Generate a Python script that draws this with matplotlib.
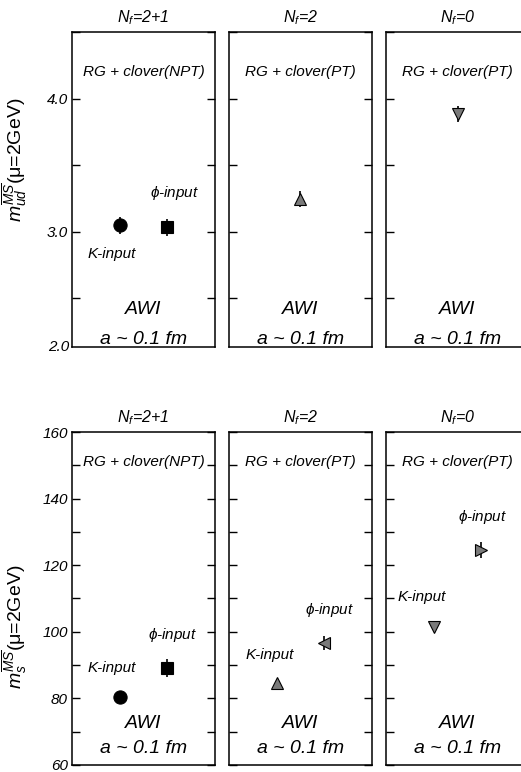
import numpy as np
import matplotlib
matplotlib.use('Agg')
import matplotlib.pyplot as plt
from matplotlib.ticker import FormatStrFormatter

plt.rcParams['font.family'] = ['Liberation Sans', 'DejaVu Sans']
plt.rcParams['font.style'] = 'italic'
plt.rcParams['mathtext.fontset'] = 'custom'
plt.rcParams['mathtext.it'] = 'Liberation Sans:italic'
plt.rcParams['mathtext.rm'] = 'Liberation Sans'

# panels: N_f = 2+1, 2, 0
nf_labels = ['2+1', '2', '0']
actions = ['RG + clover(NPT)', 'RG + clover(PT)', 'RG + clover(PT)']

# m_ud (MS-bar, 2 GeV) in MeV
mud_x = [[1.0, 2.0], [1.5], [1.5]]
mud_val = [[3.05, 3.035], [3.245], [3.885]]
mud_err = [[0.064, 0.063], [0.06], [0.06]]

# m_s (MS-bar, 2 GeV) in MeV : K-input and phi-input
ms_k = [80.3, 84.6, 101.3]
ms_k_err = [1.0, 1.0, 1.0]
ms_phi = [89.2, 96.6, 124.7]
ms_phi_err = [2.7, 2.1, 2.4]

k_markers = ['o', '^', 'v']
phi_markers = ['s', '<', '>']
colors = ['black', '#7a7a7a', '#7a7a7a']

fig = plt.figure(figsize=(5.21, 7.72), dpi=100)
lefts = [0.1382, 0.4395, 0.7409]
w = 0.2745

top_axes = [fig.add_axes([l, 0.5505, w, 0.4080]) for l in lefts]
bot_axes = [fig.add_axes([l, 0.0091, w, 0.4313]) for l in lefts]


def style(ax, major, minor, labels):
    ax.set_xlim(0, 3)
    ax.set_xticks([])
    ax.set_yticks(major)
    ax.set_yticks(minor, minor=True)
    ax.tick_params(axis='y', which='both', direction='in', left=True, right=True,
                   length=6, width=1.0, labelsize=11, labelleft=labels, pad=3)
    for s in ax.spines.values():
        s.set_linewidth(1.1)


def marker(ax, x, y, e, m, c, ms=9):
    ax.errorbar([x], [y], yerr=[e], fmt=m, color='black', mfc=c, mec='black',
                ms=ms, mew=0.8, elinewidth=1.2, capsize=0)


for i, ax in enumerate(top_axes):
    ax.set_ylim(2.135, 4.5)
    style(ax, [3.0, 4.0], [2.5, 3.5, 4.5], i == 0)
    ax.yaxis.set_major_formatter(FormatStrFormatter('%.1f'))
    ax.set_title(r'$N_f$=' + nf_labels[i], fontsize=11.5, pad=7)
    tr = ax.get_yaxis_transform()
    ax.text(0.5, 4.20, actions[i], transform=tr, ha='center', va='center', fontsize=11)
    ax.text(0.5, 2.416, 'AWI', transform=tr, ha='center', va='center', fontsize=14)
    ax.text(0.5, 2.19, 'a ~ 0.1 fm', transform=tr, ha='center', va='center', fontsize=14)
    if i == 0:
        marker(ax, mud_x[0][0], mud_val[0][0], mud_err[0][0], 'o', 'black', 9.5)
        marker(ax, mud_x[0][1], mud_val[0][1], mud_err[0][1], 's', 'black', 8.5)
        ax.text(0.72, 3.29, r'$\mathrm{\phi}$-input', transform=tr, ha='center', va='center', fontsize=11)
        ax.text(0.28, 2.83, 'K-input', transform=tr, ha='center', va='center', fontsize=11)
    else:
        marker(ax, mud_x[i][0], mud_val[i][0], mud_err[i][0], k_markers[i], colors[i], 8.5)

top_axes[0].text(-0.02, 0.0, '2.0', transform=top_axes[0].transAxes, ha='right',
                 va='center', fontsize=11)
top_axes[0].set_ylabel(r'$m_{ud}^{\overline{MS}}$(μ=2GeV)', fontsize=14, style='normal')
top_axes[0].yaxis.set_label_coords(-0.30, 0.594)

k_lab = [(0.278, 89.1), (0.287, 93.0), (0.25, 110.5)]
phi_lab = [(0.704, 99.0), (0.706, 106.6), (0.678, 134.5)]

for i, ax in enumerate(bot_axes):
    ax.set_ylim(60, 160)
    style(ax, [60, 80, 100, 120, 140, 160], [70, 90, 110, 130, 150], i == 0)
    ax.set_title(r'$N_f$=' + nf_labels[i], fontsize=11.5, pad=7)
    tr = ax.get_yaxis_transform()
    ax.text(0.5, 151, actions[i], transform=tr, ha='center', va='center', fontsize=11)
    ax.text(0.5, 72.5, 'AWI', transform=tr, ha='center', va='center', fontsize=14)
    ax.text(0.5, 65.0, 'a ~ 0.1 fm', transform=tr, ha='center', va='center', fontsize=14)
    ms_k_size = 9.5 if i == 0 else 8.5
    marker(ax, 1.0, ms_k[i], ms_k_err[i], k_markers[i], colors[i], ms_k_size)
    marker(ax, 2.0, ms_phi[i], ms_phi_err[i], phi_markers[i], colors[i], 8.5)
    ax.text(k_lab[i][0], k_lab[i][1], 'K-input', transform=tr, ha='center', va='center', fontsize=11)
    ax.text(phi_lab[i][0], phi_lab[i][1], r'$\mathrm{\phi}$-input', transform=tr,
            ha='center', va='center', fontsize=11)

bot_axes[0].set_ylabel(r'$m_{s}^{\overline{MS}}$(μ=2GeV)', fontsize=14, style='normal')
bot_axes[0].yaxis.set_label_coords(-0.30, 0.414)

fig.savefig('out.png', dpi=100)
